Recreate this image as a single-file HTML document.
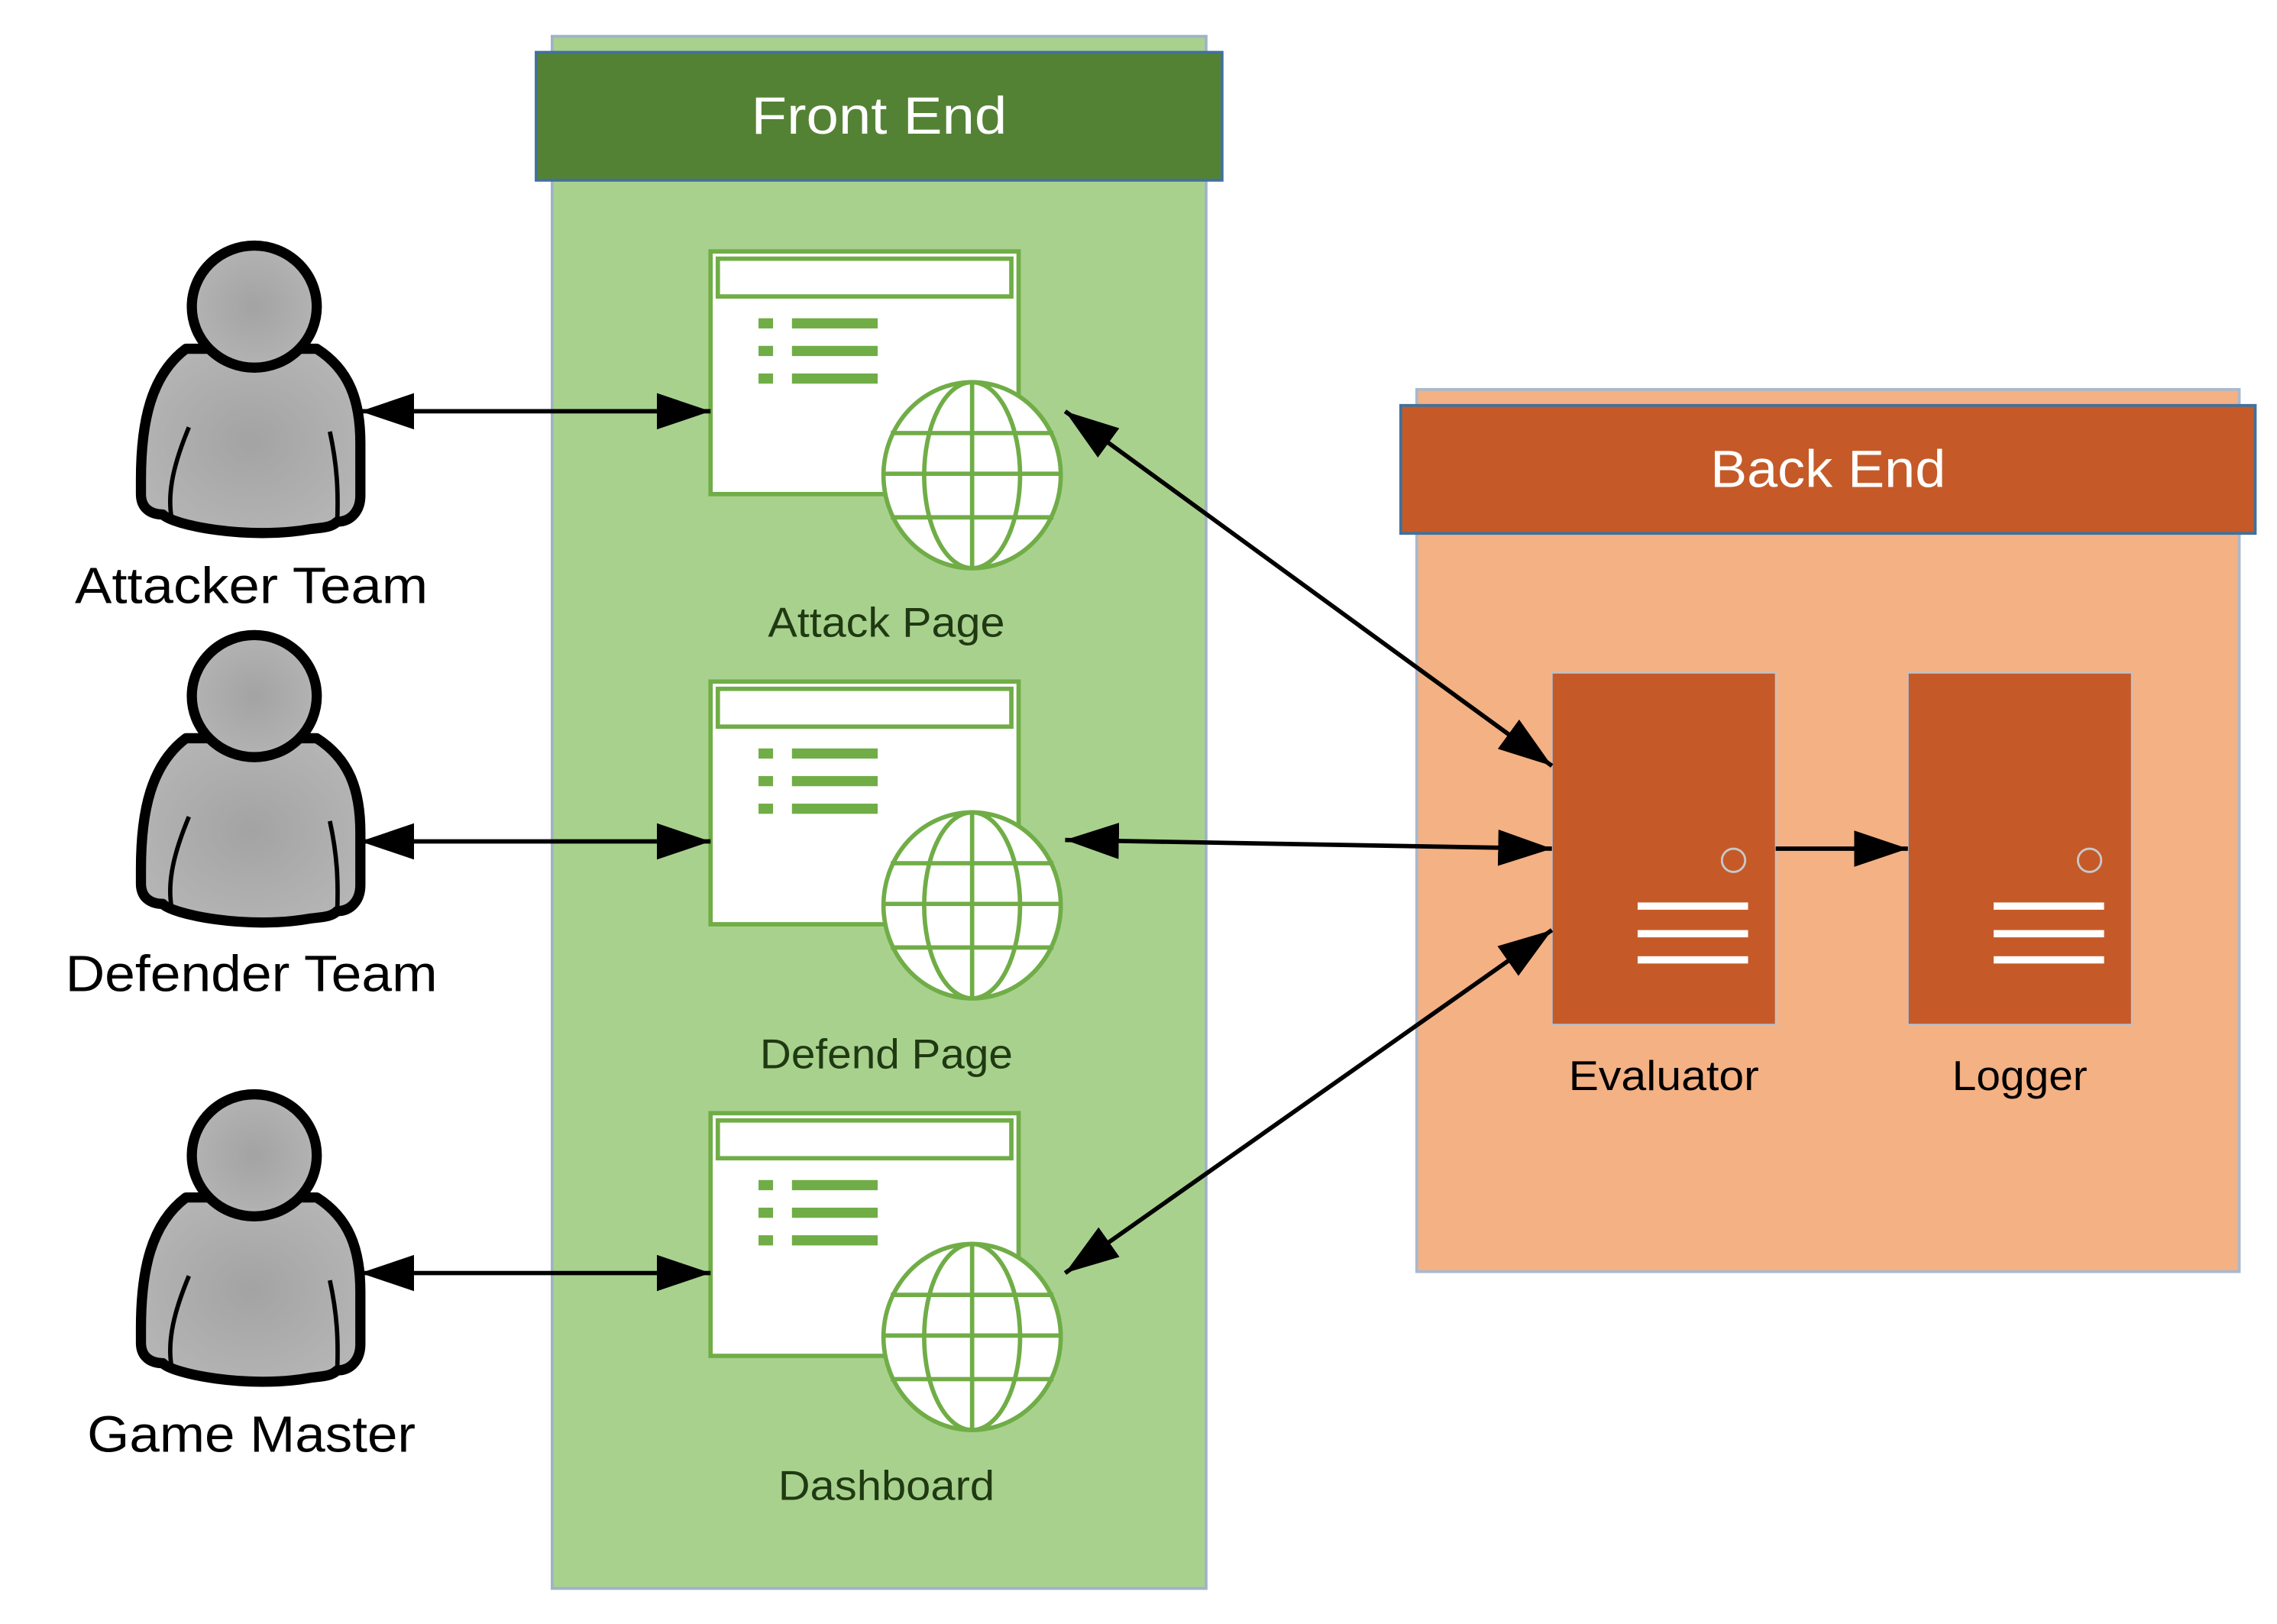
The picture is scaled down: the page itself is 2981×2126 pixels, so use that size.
<!DOCTYPE html>
<html><head><meta charset="utf-8"><style>
html,body{margin:0;padding:0;background:#fff;}
svg{display:block;}
text{font-family:"Liberation Sans",sans-serif;}
</style></head><body>
<svg width="2981" height="2126" viewBox="0 0 1567 1117.5" preserveAspectRatio="none" xmlns="http://www.w3.org/2000/svg">
<defs>
<radialGradient id="g" cx="50%" cy="50%" r="60%"><stop offset="0" stop-color="#a3a3a3"/><stop offset="1" stop-color="#b6b6b6"/></radialGradient>
<marker id="ah" viewBox="0 0 37 25" refX="37" refY="12.5" markerWidth="37" markerHeight="25" markerUnits="userSpaceOnUse" orient="auto-start-reverse"><path d="M0,0 L37,12.5 L0,25 Z" fill="#000"/></marker>
<g id="person">
<path d="M128,240 C104,258 97,290 97,330 L97,340 C97,350 104,354 112,354 C118,361 170,372 214,364 C222,363 228,363 232,359 C242,359 248,351 248,341 L248,305 C248,275 240,254 218,240 Z" fill="url(#g)" stroke="#000" stroke-width="7" stroke-linejoin="round"/>
<path d="M130,294 C120,318 115,338 118,356" fill="none" stroke="#000" stroke-width="3"/>
<path d="M227,297 C232,320 233,338 232,361" fill="none" stroke="#000" stroke-width="3"/>
<ellipse cx="175" cy="211" rx="43" ry="42" fill="url(#g)" stroke="#000" stroke-width="7"/>
</g>
<g id="page">
<rect x="489" y="173" width="212" height="167" fill="#fff" stroke="#70ad47" stroke-width="3"/>
<rect x="494" y="178" width="202" height="26" fill="#fff" stroke="#70ad47" stroke-width="3"/>
<rect x="522" y="219" width="10" height="7" fill="#70ad47"/>
<rect x="522" y="238" width="10" height="7" fill="#70ad47"/>
<rect x="522" y="257" width="10" height="7" fill="#70ad47"/>
<rect x="545" y="219" width="59" height="7" fill="#70ad47"/>
<rect x="545" y="238" width="59" height="7" fill="#70ad47"/>
<rect x="545" y="257" width="59" height="7" fill="#70ad47"/>
<ellipse cx="669" cy="327" rx="61" ry="64" fill="#fff" stroke="#70ad47" stroke-width="3"/>
<ellipse cx="669" cy="327" rx="33" ry="64" fill="none" stroke="#70ad47" stroke-width="3"/>
<line x1="669" y1="263" x2="669" y2="391" stroke="#70ad47" stroke-width="3"/>
<line x1="613" y1="298" x2="725" y2="298" stroke="#70ad47" stroke-width="3"/>
<line x1="608" y1="326" x2="730" y2="326" stroke="#70ad47" stroke-width="3"/>
<line x1="613" y1="356" x2="725" y2="356" stroke="#70ad47" stroke-width="3"/>
</g>
<g id="server">
<rect x="0" y="0" width="154" height="242" fill="#c55a28" stroke="#b7c4d4" stroke-width="1"/>
<circle cx="125" cy="129" r="8" fill="none" stroke="#c8c8c8" stroke-width="1.5"/>
<rect x="59" y="158" width="76" height="5" fill="#fff"/>
<rect x="59" y="177" width="76" height="5" fill="#fff"/>
<rect x="59" y="195" width="76" height="5" fill="#fff"/>
</g>
</defs>

<rect x="380" y="25" width="450" height="1068" fill="#a9d18e" stroke="#9fb3c8" stroke-width="2"/>
<rect x="369" y="36" width="472" height="88" fill="#548235" stroke="#41719c" stroke-width="2"/>
<text x="605" y="92" font-size="36" fill="#fff" text-anchor="middle" textLength="176" lengthAdjust="spacingAndGlyphs">Front End</text>

<use href="#page"/>
<use href="#page" y="296"/>
<use href="#page" y="593"/>
<text x="610" y="438" font-size="29" fill="#1f3a12" text-anchor="middle" textLength="163" lengthAdjust="spacingAndGlyphs">Attack Page</text>
<text x="610" y="735" font-size="29" fill="#1f3a12" text-anchor="middle" textLength="174" lengthAdjust="spacingAndGlyphs">Defend Page</text>
<text x="610" y="1032" font-size="29" fill="#1f3a12" text-anchor="middle" textLength="149" lengthAdjust="spacingAndGlyphs">Dashboard</text>

<rect x="975" y="268" width="566" height="607" fill="#f4b183" stroke="#a9b9cc" stroke-width="2"/>
<rect x="964" y="279" width="588" height="88" fill="#c55a28" stroke="#41719c" stroke-width="2"/>
<text x="1258" y="335" font-size="36" fill="#fff" text-anchor="middle" textLength="162" lengthAdjust="spacingAndGlyphs">Back End</text>
<use href="#server" x="1068" y="463"/>
<use href="#server" x="1313" y="463"/>
<text x="1145" y="750" font-size="29" fill="#000" text-anchor="middle" textLength="131" lengthAdjust="spacingAndGlyphs">Evaluator</text>
<text x="1390" y="750" font-size="29" fill="#000" text-anchor="middle" textLength="93" lengthAdjust="spacingAndGlyphs">Logger</text>

<use href="#person"/>
<use href="#person" y="268"/>
<use href="#person" y="584"/>
<text x="173" y="415" font-size="35" fill="#000" text-anchor="middle" textLength="243" lengthAdjust="spacingAndGlyphs">Attacker Team</text>
<text x="173" y="682" font-size="35" fill="#000" text-anchor="middle" textLength="256" lengthAdjust="spacingAndGlyphs">Defender Team</text>
<text x="173" y="999" font-size="35" fill="#000" text-anchor="middle" textLength="226" lengthAdjust="spacingAndGlyphs">Game Master</text>

<g stroke="#000" stroke-width="3" fill="none">
<line x1="248" y1="283" x2="489" y2="283" marker-start="url(#ah)" marker-end="url(#ah)"/>
<line x1="248" y1="579" x2="489" y2="579" marker-start="url(#ah)" marker-end="url(#ah)"/>
<line x1="248" y1="876" x2="489" y2="876" marker-start="url(#ah)" marker-end="url(#ah)"/>
<line x1="733" y1="283" x2="1068" y2="527" marker-start="url(#ah)" marker-end="url(#ah)"/>
<line x1="733" y1="578" x2="1068" y2="584" marker-start="url(#ah)" marker-end="url(#ah)"/>
<line x1="733" y1="876" x2="1068" y2="640" marker-start="url(#ah)" marker-end="url(#ah)"/>
<line x1="1222" y1="584" x2="1313" y2="584" marker-end="url(#ah)"/>
</g>
</svg>
</body></html>
